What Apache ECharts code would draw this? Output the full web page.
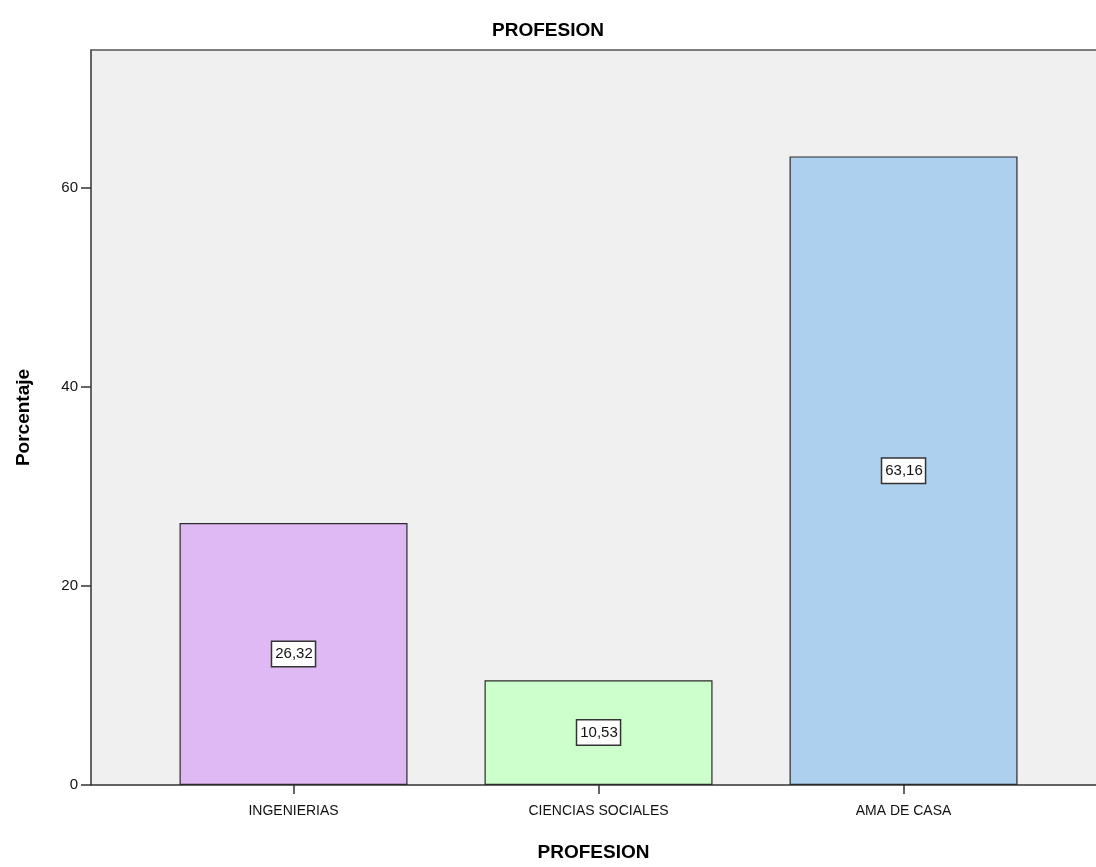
<!DOCTYPE html>
<html>
<head>
<meta charset="utf-8">
<title>PROFESION</title>
<script src="https://cdn.jsdelivr.net/npm/echarts@6/dist/echarts.min.js"></script>
<style>
  html, body { margin: 0; padding: 0; background: #ffffff; }
  #chart { width: 1096px; height: 867px; }
</style>
</head>
<body>
<div id="chart"></div>
<script>
// Percentage of respondents by profession
const categories = ['INGENIERIAS', 'CIENCIAS SOCIALES', 'AMA DE CASA'];
const percentages = [26.32, 10.53, 63.16];
const barColors = ['#dfb9f3', '#ccffcc', '#acd0ee'];
const yTicks = [0, 20, 40, 60];

const chart = echarts.init(document.getElementById('chart'));
const fontFamily = '"Liberation Sans", Arial, sans-serif';
const X_MIN = -0.664;
const X_MAX = 2.631;

chart.setOption({
  animation: false,
  title: {
    text: 'PROFESION',
    left: 'center',
    top: 16,
    textStyle: { fontFamily, fontSize: 19, fontWeight: 'bold', color: '#000' }
  },
  grid: {
    left: 91, top: 50, right: 0, bottom: 81,
    show: true,
    backgroundColor: '#f0f0f0',
    borderWidth: 0
  },
  xAxis: [{
    type: 'value',
    min: X_MIN,
    max: X_MAX,
    name: 'PROFESION',
    nameLocation: 'middle',
    nameGap: 58,
    nameTextStyle: { fontFamily, fontSize: 19, fontWeight: 'bold', color: '#000' },
    splitLine: { show: false },
    axisLine: { show: true, onZero: false, lineStyle: { color: '#333', width: 1.5 } },
    axisTick: { show: true, length: 9, customValues: [0, 1, 2], lineStyle: { color: '#333', width: 1.5 } },
    axisLabel: {
      customValues: [0, 1, 2],
      margin: 19,
      fontFamily, fontSize: 14, color: '#111',
      formatter: v => categories[Math.round(v)] || ''
    }
  }, {
    // frame line along the top of the plot area
    type: 'value',
    position: 'top',
    min: X_MIN,
    max: X_MAX,
    splitLine: { show: false },
    axisLine: { show: true, onZero: false, lineStyle: { color: '#555', width: 1.5 } },
    axisTick: { show: false },
    axisLabel: { show: false }
  }],
  yAxis: {
    type: 'value',
    min: 0,
    max: 73.85,
    interval: 20,
    name: 'Porcentaje',
    nameLocation: 'middle',
    nameGap: 58,
    nameTextStyle: { fontFamily, fontSize: 19, fontWeight: 'bold', color: '#000' },
    splitLine: { show: false },
    axisLine: { show: true, onZero: false, lineStyle: { color: '#333', width: 1.5 } },
    axisTick: { show: true, length: 10, customValues: yTicks, lineStyle: { color: '#333', width: 1.5 } },
    axisLabel: {
      customValues: yTicks,
      margin: 13,
      fontFamily, fontSize: 15, color: '#111'
    }
  },
  series: [{
    type: 'bar',
    xAxisIndex: 0,
    barWidth: 228,
    data: percentages.map((v, i) => ({
      value: [i, v],
      itemStyle: { color: barColors[i], borderColor: '#2b2b2b', borderWidth: 1.2 }
    })),
    label: {
      show: true,
      position: 'inside',
      formatter: p => p.value[1].toFixed(2).replace('.', ','),
      fontFamily, fontSize: 15, color: '#111',
      backgroundColor: '#ffffff',
      borderColor: '#333',
      borderWidth: 1.5,
      padding: [5, 2, 4, 3]
    }
  }]
});
</script>
</body>
</html>
